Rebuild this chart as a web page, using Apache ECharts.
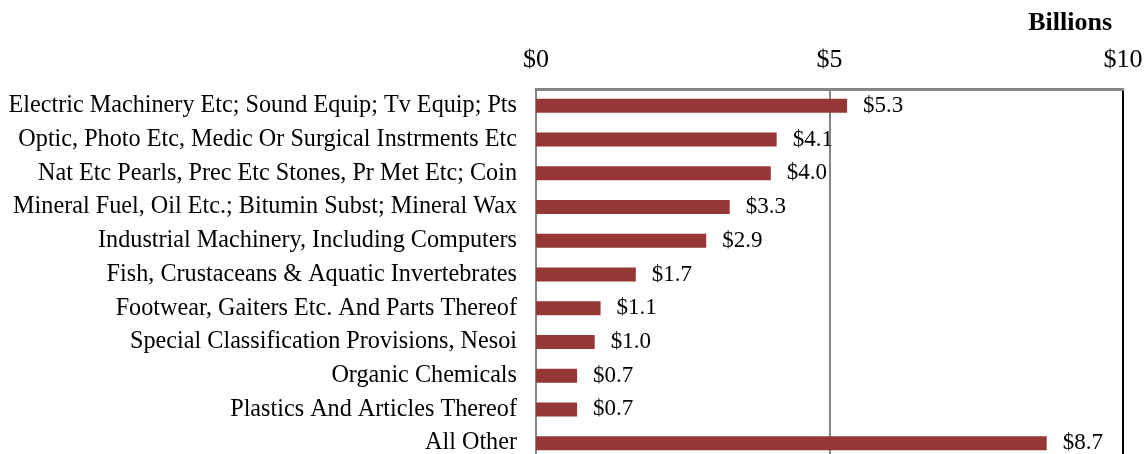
<!DOCTYPE html>
<html>
<head>
<meta charset="utf-8">
<script src="https://cdn.jsdelivr.net/npm/echarts@6/dist/echarts.min.js"></script>
<style>
  html, body { margin: 0; padding: 0; background: #fff; overflow: hidden; }
  #chart { width: 1146px; height: 480px; }
</style>
</head>
<body>
<div id="chart"></div>
<script>
// Export categories, top to bottom
const categories = [
  'Electric Machinery Etc; Sound Equip; Tv Equip; Pts',
  'Optic, Photo Etc, Medic Or Surgical Instrments Etc',
  'Nat Etc Pearls, Prec Etc Stones, Pr Met Etc; Coin',
  'Mineral Fuel, Oil Etc.; Bitumin Subst; Mineral Wax',
  'Industrial Machinery, Including Computers',
  'Fish, Crustaceans & Aquatic Invertebrates',
  'Footwear, Gaiters Etc. And Parts Thereof',
  'Special Classification Provisions, Nesoi',
  'Organic Chemicals',
  'Plastics And Articles Thereof',
  'All Other'
];
// Values in billions of dollars
const values = [5.3, 4.1, 4.0, 3.3, 2.9, 1.7, 1.1, 1.0, 0.7, 0.7, 8.7];
const axisMin = 0;
const axisMax = 10;
const axisStep = 5;
const unitLabel = 'Billions';

const serif = '"Liberation Serif", "Times New Roman", serif';
const chart = echarts.init(document.getElementById('chart'));

// The plot runs past the bottom of the visible page; the last row is cut off
chart.setOption({
  backgroundColor: '#fff',
  animation: false,
  title: {
    text: unitLabel,
    right: 29,
    top: 5,
    textStyle: { fontFamily: serif, fontSize: 26, fontWeight: 'bold', color: '#000' }
  },
  grid: { left: 536, right: 23, top: 89, bottom: 20, containLabel: false },
  xAxis: {
    type: 'value',
    position: 'top',
    min: axisMin,
    max: axisMax,
    interval: axisStep,
    axisLine: { show: true, lineStyle: { color: '#868686', width: 3 } },
    axisTick: { show: false },
    axisLabel: {
      margin: 16,
      formatter: v => '$' + v,
      fontFamily: serif,
      fontSize: 26,
      color: '#000'
    },
    splitLine: {
      show: true,
      lineStyle: { color: ['#868686', '#868686', '#000'], width: 2 }
    }
  },
  yAxis: {
    type: 'category',
    data: categories,
    inverse: true,
    axisLine: { show: true, lineStyle: { color: '#868686', width: 2 } },
    axisTick: { show: false },
    axisLabel: {
      margin: 19,
      fontFamily: serif,
      fontSize: 24.2,
      color: '#000'
    }
  },
  series: [{
    type: 'bar',
    data: values,
    barWidth: 14,
    itemStyle: { color: '#953735' },
    label: {
      show: true,
      position: 'right',
      distance: 16,
      formatter: p => '$' + p.value.toFixed(1),
      fontFamily: serif,
      fontSize: 23,
      color: '#000'
    }
  }]
});
</script>
</body>
</html>
